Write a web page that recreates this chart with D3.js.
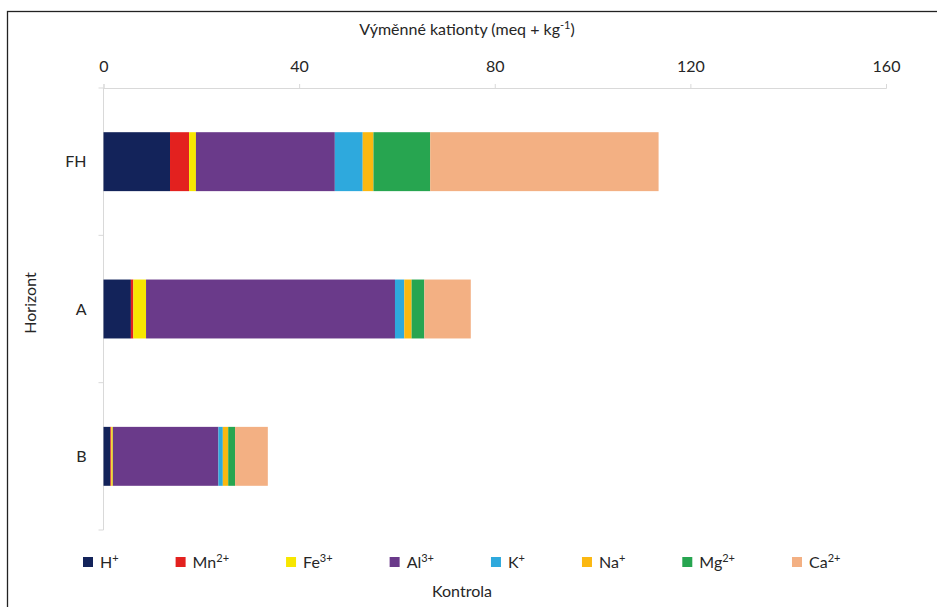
<!DOCTYPE html>
<html>
<head>
<meta charset="utf-8">
<script src="https://cdn.jsdelivr.net/npm/d3@7"></script>
<style>
body { margin: 0; background: #fff; }
text { font-family: Lato, "Open Sans", sans-serif; fill: #262626; }
</style>
</head>
<body>
<script>
var horizons = ["FH", "A", "B"];
var ions = ["H", "Mn", "Fe", "Al", "K", "Na", "Mg", "Ca"];
var ionCharge = ["+", "2+", "3+", "3+", "+", "+", "2+", "2+"];
var colors = ["#13235a", "#e3211f", "#f7e600", "#6a3a8a", "#2ea9dd", "#fbb811", "#27a550", "#f3b083"];
var xTicks = [0, 40, 80, 120, 160];

// hodnoty v poradi ions
var valFH = [13.6, 3.9, 1.4, 28.4, 5.7, 2.2, 11.6, 46.7];
var valA  = [5.6, 0.5, 2.6, 50.9, 1.9, 1.5, 2.6, 9.5];
var valB  = [1.4, 0.2, 0.3, 21.6, 0.9, 1.1, 1.4, 6.7];

var W = 937, H = 607;
var m = {top: 88, left: 103.5, right: 51, bottom: 77};

var rows = [valFH, valA, valB].map(function(v, i){
  var r = {horizon: horizons[i]};
  ions.forEach(function(k, j){ r[k] = v[j]; });
  return r;
});
var stack = d3.stack().keys(ions)(rows);

var svg = d3.select("body").append("svg")
    .attr("width", W).attr("height", H);

// ramecek
svg.append("rect")
    .attr("x", 7.5).attr("y", 11.5)
    .attr("width", W).attr("height", H)
    .style("fill", "none").style("stroke", "#222").style("stroke-width", 1.3);

var x = d3.scaleLinear().domain([0, 160]).range([m.left, W - m.right]);
var y = d3.scaleBand().domain(horizons).range([m.top, H - m.bottom])
    .paddingInner(0.6).paddingOuter(0.3);

// horni osa
var xa = svg.append("g").attr("transform", "translate(0," + m.top + ")")
    .call(d3.axisTop(x).tickValues(xTicks).tickSize(4).tickPadding(12));
xa.select(".domain").style("stroke", "#d9d9d9");
xa.selectAll(".tick line").style("stroke", "#d9d9d9");
xa.selectAll(".tick text").style("font-size", "16px").style("fill", "#262626");

// leva osa
svg.append("line")
    .attr("x1", m.left).attr("x2", m.left)
    .attr("y1", m.top).attr("y2", H - m.bottom)
    .style("stroke", "#d9d9d9");
var bounds = [m.top].concat(horizons.map(function(h){ return y(h) + y.bandwidth() + y.step()*y.paddingInner()/2; }));
svg.selectAll(".ytk").data(bounds).enter().append("line")
    .attr("x1", m.left - 5).attr("x2", m.left)
    .attr("y1", function(d){ return d; }).attr("y2", function(d){ return d; })
    .style("stroke", "#d9d9d9");
svg.selectAll(".ylab").data(horizons).enter().append("text")
    .attr("x", m.left - 17)
    .attr("y", function(d){ return y(d) + y.bandwidth()/2; })
    .attr("dy", "0.35em")
    .attr("text-anchor", "end")
    .style("font-size", "16px")
    .text(function(d){ return d; });

// sloupce
svg.selectAll(".serie").data(stack).enter().append("g")
    .style("fill", function(d, i){ return colors[i]; })
  .selectAll("rect").data(function(d){ return d; }).enter().append("rect")
    .attr("x", function(d){ return x(d[0]); })
    .attr("width", function(d){ return x(d[1]) - x(d[0]); })
    .attr("y", function(d){ return y(d.data.horizon); })
    .attr("height", y.bandwidth());

// popisky os
var title = svg.append("text")
    .attr("x", 467).attr("y", 35)
    .attr("text-anchor", "middle")
    .style("font-size", "16px");
title.append("tspan").text("Výměnné kationty (meq + kg");
title.append("tspan").attr("dy", "-6").style("font-size", "11px").text("-1");
title.append("tspan").attr("dy", "6").text(")");

svg.append("text")
    .attr("transform", "translate(36,303) rotate(-90)")
    .attr("text-anchor", "middle")
    .style("font-size", "16px")
    .text("Horizont");

svg.append("text")
    .attr("x", 462).attr("y", 597)
    .attr("text-anchor", "middle")
    .style("font-size", "16px")
    .text("Kontrola");

// legenda
var lx = 83;
ions.forEach(function(k, i){
  svg.append("rect")
      .attr("x", lx).attr("y", 557)
      .attr("width", 10).attr("height", 10)
      .style("fill", colors[i]);
  var t = svg.append("text")
      .attr("x", lx + 17).attr("y", 568)
      .style("font-size", "16px");
  t.append("tspan").text(k);
  t.append("tspan").attr("dy", "-6").style("font-size", "11px").text(ionCharge[i]);
  lx += 17 + t.node().getComputedTextLength() + 57;
});
</script>
</body>
</html>
